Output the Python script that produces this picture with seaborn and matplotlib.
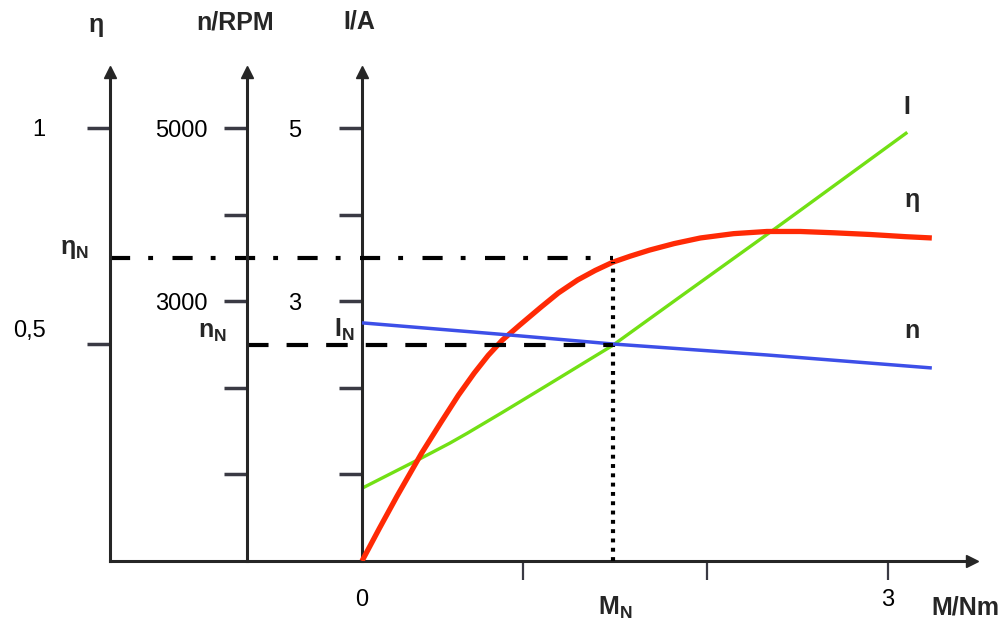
import matplotlib
matplotlib.use("Agg")
import matplotlib.pyplot as plt
import matplotlib.transforms as mtransforms
import seaborn as sns

# ---------------- data ----------------
torque_eta = [0.0, 0.10, 0.20, 0.34, 0.45, 0.55, 0.64, 0.72, 0.80, 0.90, 1.02, 1.12, 1.23,
              1.33, 1.43, 1.53, 1.64, 1.78, 1.93, 2.12, 2.31, 2.50, 2.69, 2.90, 3.10, 3.25]
efficiency = [0.0, 0.076, 0.150, 0.249, 0.320, 0.383, 0.434, 0.475, 0.510, 0.545, 0.586, 0.619, 0.649,
              0.671, 0.690, 0.704, 0.718, 0.733, 0.746, 0.756, 0.761, 0.761, 0.758, 0.754, 0.749, 0.746]

torque_I = [0.0, 0.34, 0.50, 0.60, 0.70, 0.80, 1.00, 1.13, 1.30, 1.43, 1.80, 2.33, 2.50, 3.11]
current = [0.84, 1.19, 1.36, 1.475, 1.595, 1.715, 1.96, 2.12, 2.33, 2.49, 3.03, 3.80, 4.05, 4.95]

torque_n = [0.0, 0.84, 1.43, 2.31, 3.25]
speed = [2750, 2610, 2506, 2379, 2229]

M_N = 1.43
eta_N = 0.70
n_N = 2500
I_N = 2.5

eta_ticks = [0.5, 1.0]
eta_ticklabels = ["0,5", "1"]
n_ticks = [1000, 2000, 3000, 4000, 5000]
n_ticklabels = ["", "", "3000", "", "5000"]
I_ticks = [1, 2, 3, 4, 5]
I_ticklabels = ["", "", "3", "", "5"]
x_ticks = [0, 0.92, 1.97, 3.0]
x_ticklabels = ["0", "", "", "3"]

# ---------------- style ----------------
sns.set_theme(style="white")
plt.rcParams["font.family"] = ["Liberation Sans", "DejaVu Sans"]
plt.rcParams["mathtext.fontset"] = "custom"
plt.rcParams["mathtext.bf"] = "Liberation Sans:bold"
plt.rcParams["mathtext.rm"] = "Liberation Sans"
plt.rcParams["mathtext.it"] = "Liberation Sans:italic"
plt.rcParams["lines.scale_dashes"] = False

RED = "#ff2a05"
GREEN = "#72e014"
BLUE = "#3d4fe8"
AXC = "#262626"
TICKC = "#3a3a44"

XLIM = (-1.4373, 3.4791)
N_AXIS_X = -0.6559

fig = plt.figure(figsize=(10.06, 6.21), dpi=100)
ax = fig.add_axes([0.10934, 0.09662, 0.85686, 0.78744])
ax_eta = ax.twinx()
ax_n = ax.twinx()

# ---------------- curves ----------------
sns.lineplot(x=torque_I, y=current, ax=ax, color=GREEN, lw=2.4, sort=False, estimator=None)
sns.lineplot(x=torque_eta, y=efficiency, ax=ax_eta, color=RED, lw=3.8, sort=False, estimator=None)
sns.lineplot(x=torque_n, y=speed, ax=ax_n, color=BLUE, lw=2.5, sort=False, estimator=None)
for a in (ax, ax_eta, ax_n):
    for ln in a.get_lines():
        ln.set_solid_joinstyle("round")
        ln.set_solid_capstyle("butt")

# reference lines
ax_eta.plot([XLIM[0], M_N], [eta_N, eta_N], color="black", lw=3.0,
            linestyle=(0, (14.5, 13, 3.5, 14)))
ax_n.plot([N_AXIS_X, M_N], [n_N, n_N], color="black", lw=3.0,
          linestyle=(0, (15.5, 13)))
ax_eta.plot([M_N, M_N], [0, eta_N - 0.01], color="black", lw=3.0,
            linestyle=(0, (2.8, 3.9)))

# ---------------- limits ----------------
ax.set_xlim(*XLIM)
ax.set_ylim(0, 5.6467)
ax_eta.set_ylim(0, 1.1293)
ax_n.set_ylim(0, 5646.7)
for a in (ax, ax_eta, ax_n):
    a.set_xlabel("")
    a.set_ylabel("")

# ---------------- spines ----------------
for a in (ax, ax_eta, ax_n):
    a.spines["top"].set_visible(False)
    a.spines["right"].set_visible(False)
    for s in a.spines.values():
        s.set_color(AXC)
        s.set_linewidth(2.2)
ax.spines["left"].set_position(("data", 0))
ax_eta.spines["bottom"].set_visible(False)
ax_n.spines["bottom"].set_visible(False)
ax_eta.spines["left"].set_visible(True)
ax_n.spines["left"].set_visible(True)
ax_eta.yaxis.set_ticks_position("left")
ax_n.yaxis.set_ticks_position("left")
ax_eta.spines["left"].set_position(("axes", 0))
ax_n.spines["left"].set_position(("data", N_AXIS_X))

# ---------------- ticks ----------------
ax.set_yticks(I_ticks, I_ticklabels)
ax_eta.set_yticks(eta_ticks, eta_ticklabels)
ax_n.set_yticks(n_ticks, n_ticklabels)
ax.set_xticks(x_ticks, x_ticklabels)

common = dict(direction="out", length=16.5, width=2.5, color=TICKC, labelsize=17, labelcolor="black")
ax.tick_params(axis="y", pad=27, **common)
ax_eta.tick_params(axis="y", pad=30, **common)
ax_n.tick_params(axis="y", pad=12, **common)
ax.tick_params(axis="x", direction="out", length=14, width=1.6, color=TICKC,
               labelsize=17, labelcolor="black", pad=6)
ax.tick_params(axis="both", which="both", bottom=True, left=True)
ax.xaxis.get_major_ticks()[0].tick1line.set_visible(False)

# shift the "0,5" label up as in the reference
lbl = ax_eta.yaxis.get_majorticklabels()[0]
lbl.set_transform(lbl.get_transform() + mtransforms.ScaledTranslation(0, 16 / 100, fig.dpi_scale_trans))

# ---------------- arrow heads ----------------
for xpos in (XLIM[0], N_AXIS_X, 0):
    ax.plot([xpos], [1], marker="^", ms=8, color=AXC, transform=ax.get_xaxis_transform(),
            clip_on=False, zorder=5)
ax.plot([1], [0], marker=">", ms=9, color=AXC, transform=ax.transAxes, clip_on=False, zorder=5)

# ---------------- labels ----------------
bold = dict(fontsize=18, fontweight="bold", ha="center", va="center", textcoords="offset pixels")
ax.annotate("η", xy=(XLIM[0], 1), xycoords=ax.get_xaxis_transform(), xytext=(-14, 47), **bold)
ax.annotate("n/RPM", xy=(N_AXIS_X, 1), xycoords=ax.get_xaxis_transform(), xytext=(-12, 49), **bold)
ax.annotate("I/A", xy=(0, 1), xycoords=ax.get_xaxis_transform(), xytext=(-3, 50), **bold)
ax.annotate("M/Nm", xy=(1, 0), xycoords="axes fraction", xytext=(-7, -47), **bold)

ax_eta.annotate(r"$\mathbf{\eta_N}$", xy=(XLIM[0], eta_N), xytext=(-36, 9), **bold)
ax_n.annotate(r"$\mathbf{n_N}$", xy=(N_AXIS_X, n_N), xytext=(-35, 13), **bold)
ax.annotate(r"$\mathbf{I_N}$", xy=(0, I_N), xytext=(-18, 15), **bold)
ax.annotate(r"$\mathbf{M_N}$", xy=(M_N, 0), xytext=(2, -47), **bold)

ax.annotate("I", xy=(torque_I[-1], current[-1]), xytext=(0, 25), **bold)
ax_eta.annotate("η", xy=(torque_eta[-1], efficiency[-1]), xytext=(-20, 38), **bold)
ax_n.annotate("n", xy=(torque_n[-1], speed[-1]), xytext=(-20, 37), **bold)

fig.savefig("out.png", dpi=100)
